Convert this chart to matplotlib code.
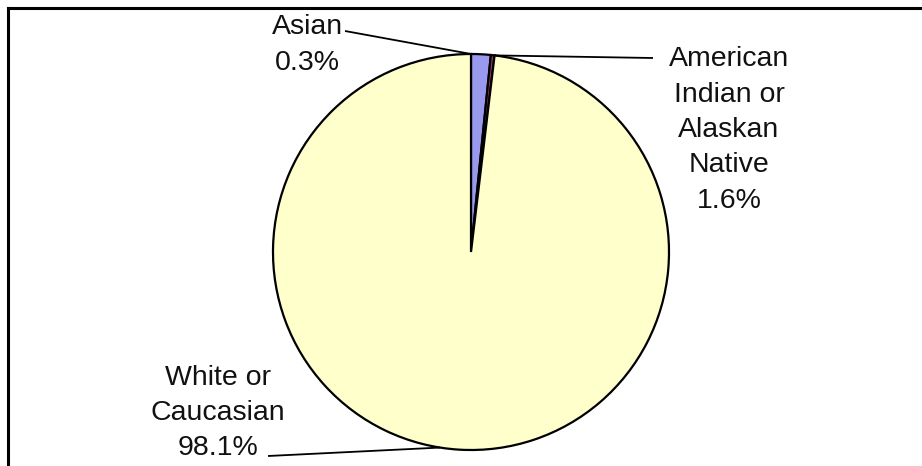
import numpy as np
import matplotlib
matplotlib.use('Agg')
import matplotlib.pyplot as plt
from matplotlib.lines import Line2D

plt.rcParams['font.family'] = ['Liberation Sans', 'DejaVu Sans']

# Race breakdown (percent)
groups = ['American\nIndian or\nAlaskan\nNative', 'Asian', 'White or\nCaucasian']
shares = [1.6, 0.3, 98.1]
colors = ['#9999EE', '#993366', '#FFFFCC']

W, H = 922, 466
fig = plt.figure(figsize=(W / 100, H / 100), dpi=100)
ax = fig.add_axes([0, 0, 1, 1])

cx, cy, r = 471, H - 252, 198
wedges, _ = ax.pie(shares, colors=colors, startangle=90, counterclock=False,
                   center=(cx, cy), radius=r, frame=True,
                   wedgeprops=dict(edgecolor='black', linewidth=1.6))
ax.set_xlim(0, W)
ax.set_ylim(0, H)
ax.set_aspect('equal')
ax.axis('off')


def rim(angle):
    a = np.deg2rad(angle)
    return cx + r * np.cos(a), cy + r * np.sin(a)


fs = 20.5
# label text, text centre, leader start, angle on the rim where the leader ends
labels = [
    (f'{groups[1]}\n{shares[1]}%', (307, H - 45), (345, H - 31), wedges[0].theta2),
    (f'{groups[0]}\n{shares[0]}%', (729, H - 130), (653, H - 58), wedges[1].theta1),
    (f'{groups[2]}\n{shares[2]}%', (218, H - 413), (268, H - 456), -99),
]
for text, (tx, ty), (lx, ly), ang in labels:
    ax.text(tx, ty, text, ha='center', va='center', fontsize=fs,
            linespacing=1.47, color='#111111')
    px, py = rim(ang)
    ax.plot([lx, px], [ly, py], color='black', lw=1.3, solid_capstyle='butt')

# frame on the top and left edges
fig.add_artist(Line2D([8 / W, 1], [1 - 8 / H, 1 - 8 / H], color='black', lw=2.2,
                      transform=fig.transFigure))
fig.add_artist(Line2D([8 / W, 8 / W], [0, 1 - 8 / H], color='black', lw=2.2,
                      transform=fig.transFigure))

fig.savefig('out.png', dpi=100)
